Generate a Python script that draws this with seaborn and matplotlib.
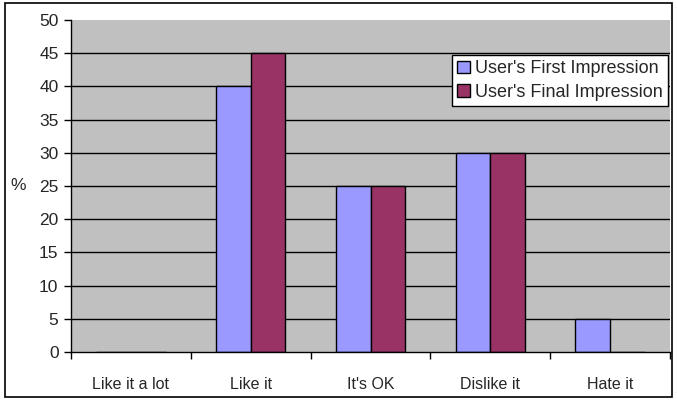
import matplotlib
matplotlib.use("Agg")
import matplotlib.pyplot as plt
import seaborn as sns
import pandas as pd
from matplotlib.patches import Rectangle

categories = ["Like it a lot", "Like it", "It's OK", "Dislike it", "Hate it"]
first_impression = [0, 40, 25, 30, 5]
final_impression = [0, 45, 25, 30, 0]
series_names = ["User's First Impression", "User's Final Impression"]
colors = ["#9999FF", "#993366"]
y_ticks = list(range(0, 51, 5))

df = pd.DataFrame({
    "category": categories * 2,
    "value": first_impression + final_impression,
    "series": [series_names[0]] * len(categories) + [series_names[1]] * len(categories),
})

sns.set_style("white")
plt.rcParams["font.family"] = ["Liberation Sans", "DejaVu Sans"]

fig = plt.figure(figsize=(6.77, 4.0), dpi=100)
ax = fig.add_axes([71/677, 1-352/400, (670-71)/677, (352-20)/400])
ax.set_facecolor("#C0C0C0")

for yv in y_ticks[1:-1]:
    ax.axhline(yv, color="black", linewidth=1, zorder=1)

sns.barplot(data=df, x="category", y="value", hue="series", order=categories,
            hue_order=series_names, palette=colors, saturation=1, width=0.58,
            dodge=True, edgecolor="black", linewidth=1, ax=ax, legend=True,
            zorder=3, gap=0)

ax.set_xlim(-0.5, 4.5)
ax.set_ylim(0, 50)
ax.set_yticks(y_ticks)

for s in ["top", "right"]:
    ax.spines[s].set_visible(False)
for s in ["left", "bottom"]:
    ax.spines[s].set_color("black")
    ax.spines[s].set_linewidth(1)
    ax.spines[s].set_zorder(5)

ax.tick_params(axis="y", direction="out", length=5, width=1, color="black",
               labelsize=12.5, pad=4, left=True)
ax.tick_params(axis="x", which="major", length=0, labelsize=11.5, pad=18)
ax.set_xticks([i - 0.5 for i in range(6)], minor=True)
ax.tick_params(axis="x", which="minor", direction="out", length=5, width=1,
               color="black", bottom=True)
ax.set_xlabel("")
ax.set_ylabel("%", fontsize=12.5, rotation=0, va="center", ha="center")
ax.yaxis.set_label_coords(-0.088, 0.5)

leg = ax.legend(loc="upper right", bbox_to_anchor=(0.997, 0.895), fontsize=13,
                frameon=True, fancybox=False, edgecolor="black", framealpha=1,
                handlelength=0.7, handleheight=0.7, handletextpad=0.3,
                borderpad=0.3, labelspacing=0.35, borderaxespad=0)
leg.get_frame().set_linewidth(1)
for h in leg.legend_handles:
    h.set_edgecolor("black")
    h.set_linewidth(1)

fig.patches.append(Rectangle((5/677, 3/400), 667/677, 394/400, transform=fig.transFigure,
                             fill=False, edgecolor="black", linewidth=1.2))

fig.savefig("out.png", dpi=100, facecolor="white")
